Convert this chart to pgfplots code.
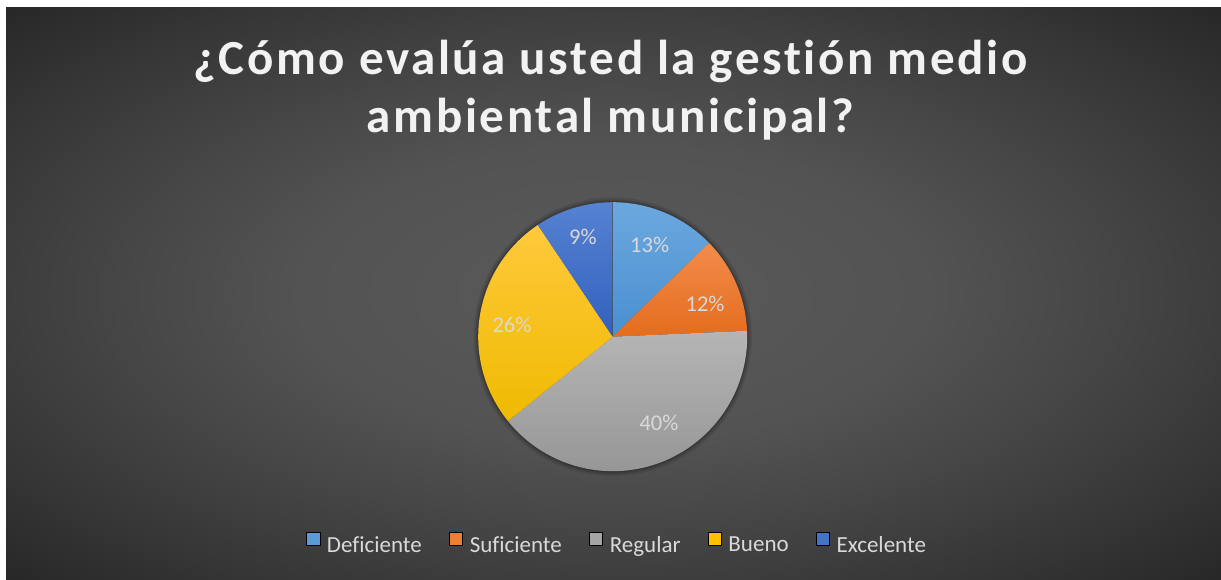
\documentclass[border=0pt]{standalone}
\usepackage{fontspec}
\setmainfont{Carlito}[Ligatures={NoCommon}]
\newfontfamily\titlefont{Carlito}[LetterSpace=5.5,Ligatures={NoCommon}]
\usepackage{pgfplots}
\usepackage{pgfplotstable}
\pgfplotsset{compat=1.18}

\definecolor{defT}{HTML}{6CA8DF}\definecolor{defB}{HTML}{4A8FD0}\definecolor{defC}{HTML}{5B9BD5}
\definecolor{sufT}{HTML}{F38C4C}\definecolor{sufB}{HTML}{E46C1D}\definecolor{sufC}{HTML}{ED7D31}
\definecolor{regT}{HTML}{B5B5B5}\definecolor{regB}{HTML}{969696}\definecolor{regC}{HTML}{A5A5A5}
\definecolor{bueT}{HTML}{FFC93C}\definecolor{bueB}{HTML}{EFBA00}\definecolor{bueC}{HTML}{FFC000}
\definecolor{excT}{HTML}{5682D2}\definecolor{excB}{HTML}{3260BD}\definecolor{excC}{HTML}{4472C4}
\definecolor{labgray}{HTML}{D9D9D9}
\definecolor{titlewhite}{HTML}{F2F2F2}

\pgfdeclareradialshading{bgshade}{\pgfpoint{0bp}{0bp}}{%
  color(0bp)=(white!35.3!black);%
  color(13bp)=(white!32.5!black);%
  color(21bp)=(white!27!black);%
  color(29bp)=(white!20.8!black);%
  color(36bp)=(white!15!black);%
  color(50bp)=(white!15!black)}

% value = share in percent; lx, ly = label centre in axis units
\pgfplotstableread{
name        value  lx      ly
Deficiente  12.7   0.275   0.684
Suficiente  11.6   0.687   0.243
Regular     39.9   0.344  -0.641
Bueno       26.4  -0.749   0.087
Excelente    9.4  -0.221   0.741
}\piedata

\newcommand\getval[3]{\pgfplotstablegetelem{#1}{#2}\of\piedata\global\let#3\pgfplotsretval}

\begin{document}%
\begin{tikzpicture}[x=1pt,y=1pt]
\getval{0}{value}\vA \getval{1}{value}\vB \getval{2}{value}\vC \getval{3}{value}\vD \getval{4}{value}\vE
\getval{0}{lx}\xA \getval{1}{lx}\xB \getval{2}{lx}\xC \getval{3}{lx}\xD \getval{4}{lx}\xE
\getval{0}{ly}\yA \getval{1}{ly}\yB \getval{2}{ly}\yC \getval{3}{ly}\yD \getval{4}{ly}\yE
\pgfmathsetmacro\aA{90}
\pgfmathsetmacro\aB{\aA-3.6*\vA}
\pgfmathsetmacro\aC{\aB-3.6*\vB}
\pgfmathsetmacro\aD{\aC-3.6*\vC}
\pgfmathsetmacro\aE{\aD-3.6*\vD}
\pgfmathsetmacro\aF{\aE-3.6*\vE}
\fill[white] (0,0) rectangle (1221,579);
\useasboundingbox (0,0) rectangle (1221,579);
\shade[shading=bgshade] (6,0) rectangle (1221,571);
\node[anchor=base, text=titlewhite, font=\titlefont\bfseries\fontsize{49}{58}\selectfont] at (610.5,504) {¿Cómo evalúa usted la gestión medio};
\node[anchor=base, text=titlewhite, font=\titlefont\bfseries\fontsize{49}{58}\selectfont] at (610.5,446) {ambiental municipal?};
\begin{axis}[
  at={(612.7pt,242.3pt)}, anchor=center,
  width=269pt, height=269pt, scale only axis,
  xmin=-1, xmax=1, ymin=-1, ymax=1,
  hide axis, clip=false, disabledatascaling,
  legend columns=5,
  legend image code/.code={\fill[#1] (0pt,-0.5pt) rectangle (13.5pt,13pt);},
  legend style={at={(0.516,-0.270)}, anchor=center, draw=none, fill=none,
    text=labgray, font=\fontsize{23}{26}\selectfont,
    /tikz/every odd column/.append style={column sep=5pt},
    /tikz/every even column/.append style={column sep=25pt},
    inner sep=0pt},
]
\fill[black,opacity=0.10] (axis cs:0,0) circle[radius=1.035];
\fill[black,opacity=0.12] (axis cs:0,0) circle[radius=1.02];
\fill[black,opacity=0.15] (axis cs:0,0) circle[radius=1.008];
\shade[top color=defT, bottom color=defB] (axis cs:0,0) -- (axis cs:{cos(\aA)},{sin(\aA)}) arc[start angle=\aA, end angle=\aB, radius=1] -- cycle;
\shade[top color=sufT, bottom color=sufB] (axis cs:0,0) -- (axis cs:{cos(\aB)},{sin(\aB)}) arc[start angle=\aB, end angle=\aC, radius=1] -- cycle;
\shade[top color=regT, bottom color=regB] (axis cs:0,0) -- (axis cs:{cos(\aC)},{sin(\aC)}) arc[start angle=\aC, end angle=\aD, radius=1] -- cycle;
\shade[top color=bueT, bottom color=bueB] (axis cs:0,0) -- (axis cs:{cos(\aD)},{sin(\aD)}) arc[start angle=\aD, end angle=\aE, radius=1] -- cycle;
\shade[top color=excT, bottom color=excB] (axis cs:0,0) -- (axis cs:{cos(\aE)},{sin(\aE)}) arc[start angle=\aE, end angle=\aF, radius=1] -- cycle;
\node[text=labgray, font=\fontsize{22.5}{26}\selectfont] at (axis cs:\xA,\yA) {13\%};
\node[text=labgray, font=\fontsize{22.5}{26}\selectfont] at (axis cs:\xB,\yB) {12\%};
\node[text=labgray, font=\fontsize{22.5}{26}\selectfont] at (axis cs:\xC,\yC) {40\%};
\node[text=labgray, font=\fontsize{22.5}{26}\selectfont] at (axis cs:\xD,\yD) {26\%};
\node[text=labgray, font=\fontsize{22.5}{26}\selectfont] at (axis cs:\xE,\yE) {9\%};
\addlegendimage{fill=defC}\addlegendentry{Deficiente}
\addlegendimage{fill=sufC}\addlegendentry{Suficiente}
\addlegendimage{fill=regC}\addlegendentry{Regular}
\addlegendimage{fill=bueC}\addlegendentry{Bueno}
\addlegendimage{fill=excC}\addlegendentry{Excelente}
\end{axis}
\end{tikzpicture}%
\end{document}
